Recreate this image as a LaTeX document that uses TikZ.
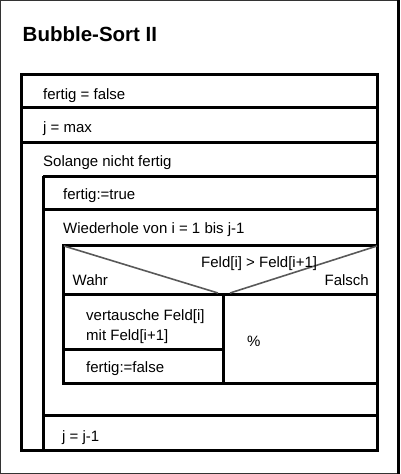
\documentclass[tikz,border=0pt]{standalone}
\usepackage{fontspec}
\setmainfont{Liberation Sans}
\begin{document}
\begin{tikzpicture}[x=1pt,y=-1pt,
  txt/.style={anchor=base west,inner sep=0pt,font=\fontsize{15}{17}\selectfont},
  ttl/.style={anchor=base west,inner sep=0pt,font=\fontsize{20.5}{23}\selectfont\bfseries},
  bar/.style={line width=3pt,black},
  diag/.style={line width=1.6pt,black!65}]
\useasboundingbox (0,0) rectangle (400,474);
% outer frame
\draw[line width=1pt,black!80] (0.5,0.5) rectangle (399.5,473.5);
\draw[line width=3pt] (398.5,0) -- (398.5,474);
% title
\node[ttl] (title) at (22.5,41) {Bubble-Sort II};
% structogram
\draw[bar] (21.5,74.5) rectangle (377.5,450.5);
\draw[bar] (21.5,107.5) -- (377.5,107.5);
\draw[bar] (21.5,142) -- (377.5,142);
% while loop body
\draw[bar] (43,176) -- (43,450.5);
\draw[bar] (43,176) -- (377.5,176);
\draw[bar] (43,209.5) -- (377.5,209.5);
\draw[bar] (43,415) -- (377.5,415);
% if block
\draw[bar] (63.5,245) rectangle (377.5,383);
\draw[bar] (63.5,294) -- (377.5,294);
\draw[bar] (223.5,294) -- (223.5,383);
\draw[bar] (63.5,349) -- (223.5,349);
\draw[diag] (64,246) -- (218,293);
\draw[diag] (377,246) -- (230,293);
% texts
\node[txt] (t1) at (43,99) {fertig = false};
\node[txt] (t2) at (43,132) {j = max};
\node[txt] (t3) at (43,166) {Solange nicht fertig};
\node[txt] (t4) at (63,199) {fertig:=true};
\node[txt] (t5) at (63,233) {Wiederhole von i = 1 bis j-1};
\node[txt] (cond) at (201,267) {Feld[i] > Feld[i+1]};
\node[txt] (wahr) at (72.5,285) {Wahr};
\node[txt,anchor=base east] (falsch) at (369,285) {Falsch};
\node[txt] (t6) at (86,320) {vertausche Feld[i]};
\node[txt] (t7) at (86,340) {mit Feld[i+1]};
\node[txt] (pct) at (247,346.5) {\%};
\node[txt] (t8) at (86,372.5) {fertig:=false};
\node[txt] (t9) at (62,441) {j = j-1};
\end{tikzpicture}
\end{document}
